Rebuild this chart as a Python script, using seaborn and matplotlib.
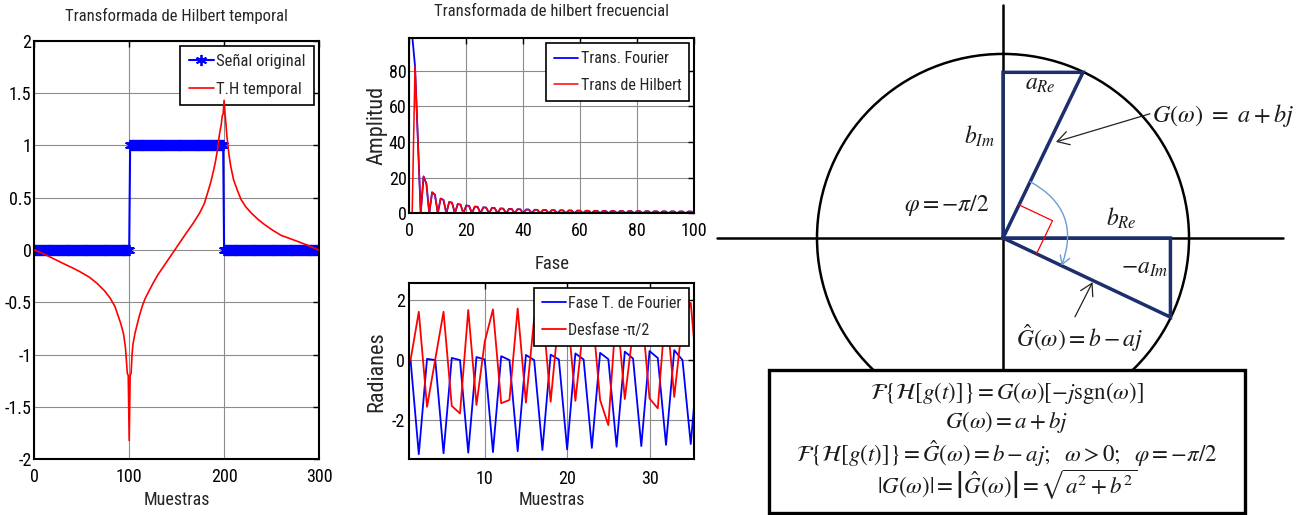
import numpy as np
import matplotlib
matplotlib.use('Agg')
import matplotlib.pyplot as plt
from matplotlib.patches import Circle, Rectangle, FancyArrowPatch
import seaborn as sns

# ---- Transformada de Hilbert temporal (left panel) ----
muestras = np.arange(0, 301)
senal_original = [0] * 101 + [1] * 99 + [0] * 101
th_muestras = [0, 8, 16, 30, 40, 48, 58, 66, 74, 80, 85, 88, 91, 94, 96, 97, 98, 99, 100,
               101, 102, 103, 104, 106, 109, 111, 114, 117, 121, 125, 130, 136, 142, 148,
               154, 160, 167, 174, 179, 183, 186, 189, 191, 193, 195, 197, 198, 199, 200,
               201, 202, 203, 205, 207, 210, 214, 218, 223, 229, 236, 243, 251, 260, 269,
               278, 288, 297, 300]
th_temporal = [0.0, -0.03, -0.064, -0.127, -0.17, -0.207, -0.26, -0.318, -0.39, -0.461,
               -0.54, -0.62, -0.70, -0.80, -0.93, -1.05, -1.18, -1.2, -1.82,
               -1.2, -1.18, -1.0, -0.9, -0.80, -0.69, -0.62, -0.53, -0.46, -0.39, -0.32,
               -0.24, -0.16, -0.08, 0.0,
               0.08, 0.16, 0.25, 0.35, 0.44, 0.557, 0.65, 0.764, 0.85, 0.955, 1.1, 1.2,
               1.28, 1.3, 1.43,
               1.3, 1.2, 1.08, 0.92, 0.8, 0.67, 0.57, 0.48, 0.41, 0.35, 0.29, 0.24, 0.19,
               0.14, 0.11, 0.08, 0.045, 0.01, 0.0]

# ---- Transformada de hilbert frecuencial (magnitudes, bins 1..100) ----
fase_bins = np.arange(1, 101)
trans_fourier = [100.0, 82.7, 41.4, 0, 20.7, 16.6, 0, 11.8, 10.4, 0,
                 8.29, 7.54, 0, 6.38, 5.93, 0, 5.19, 4.89, 0, 4.38,
                 4.17, 0, 3.79, 3.63, 0, 3.35, 3.22, 0, 3.0, 2.9,
                 0, 2.72, 2.63, 0, 2.48, 2.42, 0, 2.29, 2.23, 0,
                 2.13, 2.08, 0, 1.99, 1.95, 0, 1.87, 1.83, 0, 1.76,
                 1.73, 0, 1.67, 1.64, 0, 1.59, 1.56, 0, 1.52, 1.49,
                 0, 1.45, 1.43, 0, 1.39, 1.38, 0, 1.34, 1.33, 0,
                 1.29, 1.28, 0, 1.25, 1.24, 0, 1.21, 1.2, 0, 1.18,
                 1.17, 0, 1.14, 1.13, 0, 1.11, 1.1, 0, 1.09, 1.08,
                 0, 1.06, 1.05, 0, 1.04, 1.03, 0, 1.02, 1.01, 0]
trans_hilbert = [0.0, 82.7, 41.4, 0, 20.7, 16.6, 0, 11.8, 10.4, 0,
                 8.29, 7.54, 0, 6.38, 5.93, 0, 5.19, 4.89, 0, 4.38,
                 4.17, 0, 3.79, 3.63, 0, 3.35, 3.22, 0, 3.0, 2.9,
                 0, 2.72, 2.63, 0, 2.48, 2.42, 0, 2.29, 2.23, 0,
                 2.13, 2.08, 0, 1.99, 1.95, 0, 1.87, 1.83, 0, 1.76,
                 1.73, 0, 1.67, 1.64, 0, 1.59, 1.56, 0, 1.52, 1.49,
                 0, 1.45, 1.43, 0, 1.39, 1.38, 0, 1.34, 1.33, 0,
                 1.29, 1.28, 0, 1.25, 1.24, 0, 1.21, 1.2, 0, 1.18,
                 1.17, 0, 1.14, 1.13, 0, 1.11, 1.1, 0, 1.09, 1.08,
                 0, 1.06, 1.05, 0, 1.04, 1.03, 0, 1.02, 1.01, 0]

# ---- phase (samples 1..36) ----
fase_muestras = np.arange(1, 37)
fase_fourier = [0.0, -3.14, 0.04, 0.0, -3.11, 0.07, 0.0, -3.09, 0.1, 0.02,
                -3.07, 0.13, 0.0, -3.04, 0.17, 0.0, -3.0, 0.18, 0.02, -2.98,
                0.22, 0.02, -2.93, 0.24, 0.03, -2.89, 0.28, 0.05, -2.87, 0.3,
                0.07, -2.83, 0.33, 0.0, -2.8, 0.36]
desfase = [0.0, 1.61, -1.56, 0.03, 1.61, -1.53, -1.78, 1.67, -1.5, 0.61,
           1.69, -1.44, -1.33, 1.72, -1.42, 1.39, 1.75, -1.39, 1.5, 1.73,
           -1.36, 1.2, 1.78, -1.33, -2.17, 1.8, -1.3, 1.0, 1.83, -1.28,
           -1.61, 1.87, -1.23, 1.3, 1.91, -1.21]

# ---- phasor diagram: G = a + bj on the unit circle ----
G_re, G_im = 0.43, 0.90

BLUE = '#0000ff'
RED = '#ff0000'
NAVY = '#1c2e6b'
SANS = ['Roboto Condensed', 'Liberation Sans Narrow', 'Liberation Sans', 'DejaVu Sans']

sns.set_style('white')
plt.rcParams['font.family'] = SANS
plt.rcParams['mathtext.fontset'] = 'stix'


def matlab_axes(ax, labelsize=13, xpad=6, ypad=2):
    ax.grid(True, color='#8c8c8c', lw=0.8)
    ax.tick_params(direction='in', top=True, right=True, length=4, width=1,
                   labelsize=labelsize, colors='black')
    ax.tick_params(axis='x', pad=xpad)
    ax.tick_params(axis='y', pad=ypad)
    for s in ax.spines.values():
        s.set_visible(True)
        s.set_linewidth(1.5)
        s.set_color('black')


def matlab_legend(ax, fontsize=11.5):
    leg = ax.legend(loc='upper right', frameon=True, fancybox=False, edgecolor='black',
                    framealpha=1, borderaxespad=0.3, handlelength=1.5,
                    handletextpad=0.15, borderpad=0.5, labelspacing=0.75,
                    fontsize=fontsize)
    leg.get_frame().set_linewidth(1.2)
    return leg


fig = plt.figure(figsize=(13.09, 5.15), dpi=100)

# left panel
ax1 = fig.add_axes([0.0262, 0.1082, 0.2175, 0.8128])
sns.lineplot(x=muestras, y=senal_original, ax=ax1, color=BLUE, lw=1.5,
             marker=(6, 2, 0), markersize=8, markeredgewidth=1.3,
             markeredgecolor=BLUE, label='Señal original', errorbar=None)
sns.lineplot(x=th_muestras, y=th_temporal, ax=ax1, color=RED, lw=1.2,
             label='T.H temporal', errorbar=None, zorder=6)
ax1.set_xlim(0, 300)
ax1.set_ylim(-2, 2)
ax1.set_xticks([0, 100, 200, 300])
yt = [-2, -1.5, -1, -0.5, 0, 0.5, 1, 1.5, 2]
ax1.set_yticks(yt, ['-2', '-1.5', '-1', '-0.5', '0', '0.5', '1', '1.5', '2'])
matlab_axes(ax1, 13, xpad=6, ypad=2)
ax1.set_title('Transformada de Hilbert temporal', fontsize=12, pad=14)
ax1.set_xlabel('Muestras', fontsize=13, labelpad=4)
ax1.set_ylabel('')
matlab_legend(ax1, 12)

# middle top panel
ax2 = fig.add_axes([0.3127, 0.5858, 0.2175, 0.3398])
sns.lineplot(x=fase_bins, y=trans_fourier, ax=ax2, color=BLUE, lw=1.3,
             label='Trans. Fourier', errorbar=None)
sns.lineplot(x=fase_bins, y=trans_hilbert, ax=ax2, color=RED, lw=1.1,
             label='Trans de Hilbert', errorbar=None)
ax2.set_xlim(0, 100)
ax2.set_ylim(0, 98.3)
ax2.set_xticks([0, 20, 40, 60, 80, 100])
ax2.set_yticks([0, 20, 40, 60, 80])
matlab_axes(ax2, 13, xpad=6, ypad=2)
ax2.set_title('Transformada de hilbert frecuencial', fontsize=12, pad=16)
ax2.set_xlabel('Fase', fontsize=13.5, labelpad=11)
ax2.set_ylabel('Amplitud', fontsize=16, labelpad=1)
matlab_legend(ax2, 11.5)

# middle bottom panel
ax3 = fig.add_axes([0.3127, 0.1087, 0.2175, 0.3412])
sns.lineplot(x=fase_muestras, y=fase_fourier, ax=ax3, color=BLUE, lw=1.3,
             label='Fase T. de Fourier', errorbar=None)
sns.lineplot(x=fase_muestras, y=desfase, ax=ax3, color=RED, lw=1.3,
             label='Desfase -π/2', errorbar=None)
ax3.set_xlim(0.85, 35.4)
ax3.set_ylim(-3.3, 2.56)
ax3.set_xticks([10, 20, 30])
ax3.set_yticks([-2, 0, 2], ['-2', '0', '2'])
matlab_axes(ax3, 13, xpad=8, ypad=3)
ax3.set_xlabel('Muestras', fontsize=13, labelpad=2)
ax3.set_ylabel('Radianes', fontsize=16, labelpad=3)
leg3 = matlab_legend(ax3, 11.5)

# phasor diagram
axd = fig.add_axes([700 / 1309, 0, 609 / 1309, 1])
axd.set_xlim(-1.629, 1.645)
axd.set_ylim(-1.505, 1.293)
axd.axis('off')

axd.add_patch(Circle((0, 0), 1, fill=False, ec='black', lw=1.8, zorder=1))
axd.plot([-1.538, 1.505], [0, 0], color='black', lw=1.8, zorder=1)
axd.plot([0, 0], [-0.72, 1.266], color='black', lw=1.8, zorder=1)

a, b = G_re, G_im
axd.plot([0, 0, a, 0], [0, b, b, 0], color=NAVY, lw=2.5, zorder=3,
         solid_joinstyle='miter')
axd.plot([0, b, b, 0], [0, 0, -a, 0], color=NAVY, lw=2.5, zorder=3,
         solid_joinstyle='miter')

t = 0.2
axd.plot([t * a, t * (a + b), t * b], [t * b, t * (b - a), -t * a],
         color='red', lw=0.9, zorder=4)

axd.add_patch(FancyArrowPatch((0.34 * a, 0.34 * b), (0.35 * b, -0.35 * a),
                              connectionstyle='arc3,rad=-0.43',
                              arrowstyle='->,head_length=0.5,head_width=0.3',
                              mutation_scale=12, color='#6c9bd2', lw=1.0,
                              shrinkA=0, shrinkB=0, zorder=4))
axd.add_patch(FancyArrowPatch((0.79, 0.675), (0.58 * a + 0.035, 0.58 * b),
                              arrowstyle='->,head_length=0.6,head_width=0.35',
                              mutation_scale=14, color='#222222', lw=0.9,
                              shrinkA=0, shrinkB=0, zorder=4))
axd.add_patch(FancyArrowPatch((0.387, -0.428), (0.535 * b, -0.535 * a - 0.01),
                              arrowstyle='->,head_length=0.6,head_width=0.35',
                              mutation_scale=14, color='#222222', lw=0.9,
                              shrinkA=0, shrinkB=0, zorder=4))

TXT = '#1a1a1a'
lab = dict(color=TXT, fontsize=17, ha='center', va='center', zorder=5)
axd.text(0.2, 0.84, r'$a_{Re}$', **lab)
axd.text(-0.124, 0.55, r'$b_{Im}$', **lab)
axd.text(0.80, 0.668, r'$G(\omega)\ =\ a + bj$', color=TXT, fontsize=17.5,
         ha='left', va='center', zorder=5)
axd.text(-0.30, 0.174, r'$\varphi = -\pi/2$', **lab)
axd.text(0.635, 0.109, r'$b_{Re}$', **lab)
axd.text(0.763, -0.158, r'$-a_{Im}$', **lab)
axd.text(0.41, -0.543, r'$\hat{G}(\omega) = b - aj$', **lab)

axd.add_patch(Rectangle((-1.258, -1.495), 2.559, 0.778, fc='white', ec='black',
                        lw=2.4, zorder=6))
box = dict(color=TXT, fontsize=16.5, ha='center', va='center', zorder=7)
axd.text(0.02, -0.842, r'$\mathcal{F}\{\mathcal{H}[g(t)]\} = G(\omega)[-j\mathrm{sgn}(\omega)]$', **box)
axd.text(0.02, -1.0, r'$G(\omega) = a + bj$', **box)
axd.text(0.02, -1.17, r'$\mathcal{F}\{\mathcal{H}[g(t)]\} = \hat{G}(\omega) = b - aj;\ \ \omega > 0;\ \ \varphi = -\pi/2$', **box)
axd.text(0.02, -1.34, r'$|G(\omega)| = \left|\hat{G}(\omega)\right| = \sqrt{a^2 + b^2}$', **box)

fig.savefig('out.png', dpi=100)
plt.close(fig)
